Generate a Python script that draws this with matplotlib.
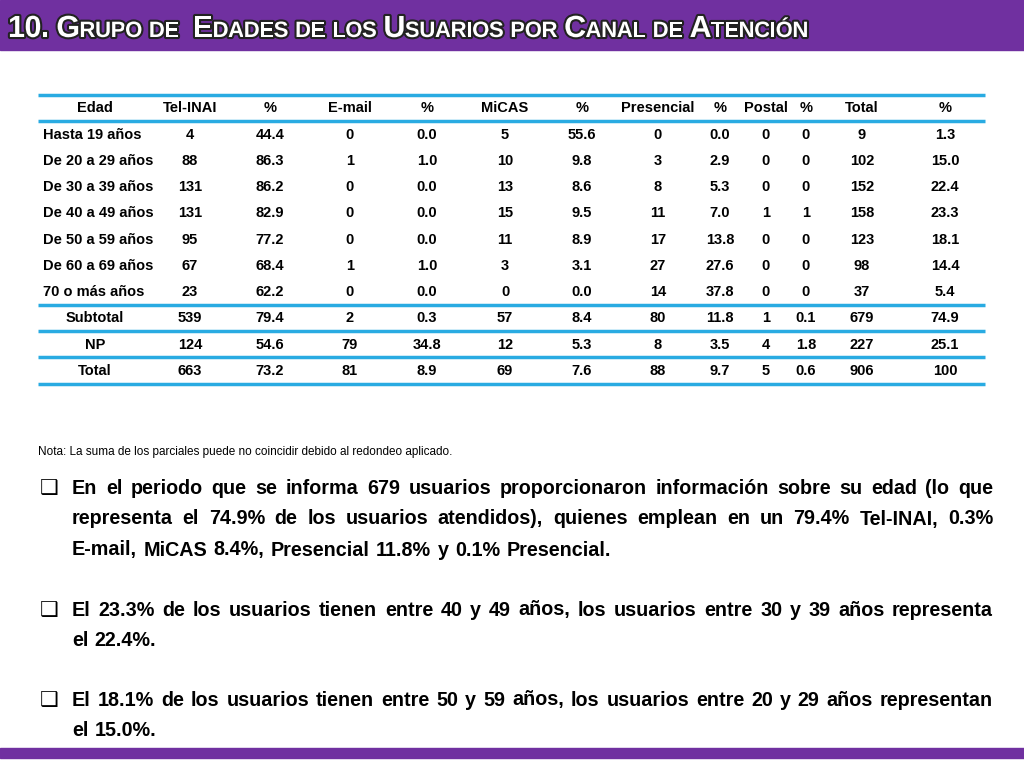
import matplotlib
matplotlib.use('Agg')
import matplotlib.pyplot as plt
import matplotlib.patches as mpatches
import matplotlib.patheffects as pe

plt.rcParams['font.family'] = 'sans-serif'
plt.rcParams['font.sans-serif'] = ['Liberation Sans', 'DejaVu Sans']

# Table data
headers = ["Edad", "Tel-INAI", "%", "E-mail", "%", "MiCAS", "%", "Presencial", "%", "Postal", "%", "Total", "%"]
ages = ["Hasta 19 años", "De 20 a 29 años", "De 30 a 39 años", "De 40 a 49 años",
        "De 50 a 59 años", "De 60 a 69 años", "70 o más años"]
tel = ["4", "88", "131", "131", "95", "67", "23"]
tel_pct = ["44.4", "86.3", "86.2", "82.9", "77.2", "68.4", "62.2"]
mail = ["0", "1", "0", "0", "0", "1", "0"]
mail_pct = ["0.0", "1.0", "0.0", "0.0", "0.0", "1.0", "0.0"]
micas = ["5", "10", "13", "15", "11", "3", "0"]
micas_pct = ["55.6", "9.8", "8.6", "9.5", "8.9", "3.1", "0.0"]
pres = ["0", "3", "8", "11", "17", "27", "14"]
pres_pct = ["0.0", "2.9", "5.3", "7.0", "13.8", "27.6", "37.8"]
postal = ["0", "0", "0", "1", "0", "0", "0"]
postal_pct = ["0", "0", "0", "1", "0", "0", "0"]
total = ["9", "102", "152", "158", "123", "98", "37"]
total_pct = ["1.3", "15.0", "22.4", "23.3", "18.1", "14.4", "5.4"]
summary_rows = [
    ["Subtotal", "539", "79.4", "2", "0.3", "57", "8.4", "80", "11.8", "1", "0.1", "679", "74.9"],
    ["NP", "124", "54.6", "79", "34.8", "12", "5.3", "8", "3.5", "4", "1.8", "227", "25.1"],
    ["Total", "663", "73.2", "81", "8.9", "69", "7.6", "88", "9.7", "5", "0.6", "906", "100"],
]

nota = "Nota: La suma de los parciales puede no coincidir debido al redondeo aplicado."
paragraphs = [
    "En el periodo que se informa 679 usuarios proporcionaron información sobre su edad "
    "(lo que representa el 74.9% de los usuarios atendidos),  quienes emplean en un 79.4% "
    "Tel-INAI, 0.3% E-mail, MiCAS 8.4%, Presencial 11.8% y  0.1% Presencial.",
    "El 23.3% de los usuarios tienen entre 40 y 49 años, los usuarios entre 30 y 39 años "
    "representa el 22.4%.",
    "El 18.1% de los usuarios tienen entre 50 y 59 años, los usuarios entre 20 y 29 años "
    "representan el 15.0%.",
]

PURPLE = '#7030A0'
BLUE = '#29ABE2'

fig = plt.figure(figsize=(10.24, 7.68), dpi=100, facecolor='white')
ax = fig.add_axes([0, 0, 1, 1])
ax.set_xlim(0, 1024)
ax.set_ylim(768, 0)
ax.axis('off')

# header and footer bars
ax.add_patch(mpatches.Rectangle((0, 0), 1024, 50, color=PURPLE, zorder=1))
ax.add_patch(mpatches.Rectangle((0, 748), 1024, 10, color=PURPLE, zorder=1))

fig.canvas.draw()
renderer = fig.canvas.get_renderer()

def px_width(t):
    return t.get_window_extent(renderer=renderer).width

# small-caps title
title = "10. Grupo de  Edades de los Usuarios por Canal de Atención"
x = 8
stroke = [pe.withStroke(linewidth=3, foreground='#222222')]
for ch in title:
    if ch == ' ':
        x += 7
        continue
    if ch.isupper() or ch.isdigit() or ch == '.':
        size, c = 22, ch
    else:
        size, c = 16, ch.upper()
    t = ax.text(x, 37, c, fontsize=size, fontweight='bold', color='white',
                va='baseline', ha='left', zorder=3, path_effects=stroke)
    x += px_width(t) * 0.97

# table
col_x = [95, 190, 270, 350, 427, 505, 582, 658, 720, 766, 806, 862, 945]
left, right = 38, 985
fs = 10.5
for cx, h in zip(col_x, headers):
    ax.text(cx, 108, h, ha='center', va='center', fontsize=fs, fontweight='bold')

row_y = [135, 161, 187, 213, 240, 266, 292]
cols = [tel, tel_pct, mail, mail_pct, micas, micas_pct, pres, pres_pct, postal, postal_pct, total, total_pct]
for i, yy in enumerate(row_y):
    ax.text(43, yy, ages[i], ha='left', va='center', fontsize=fs, fontweight='bold')
    for cx, col in zip(col_x[1:], cols):
        ax.text(cx, yy, col[i], ha='center', va='center', fontsize=fs, fontweight='bold')

for yy, row in zip([318, 345, 371], summary_rows):
    for cx, v in zip(col_x, row):
        ax.text(cx, yy, v, ha='center', va='center', fontsize=fs, fontweight='bold')

for ly in [95, 121, 304.5, 331, 357, 384]:
    ax.plot([left, right], [ly, ly], color=BLUE, lw=2.5, solid_capstyle='butt')

ax.text(38, 452, nota, ha='left', va='center', fontsize=8.5)

# justified paragraphs
pfs = 14.2
x0, x1 = 72, 993
line_h = 31
par_y = [488, 610, 700]

def words_width(ws):
    out = []
    for w in ws:
        t = ax.text(0, 0, w, fontsize=pfs, fontweight='bold')
        out.append(px_width(t))
        t.remove()
    return out

space = words_width(["a b"])[0] - 2 * words_width(["a"])[0]
for p, y0 in zip(paragraphs, par_y):
    ax.text(40, y0, '\u2751', ha='left', va='center', fontsize=15, family='DejaVu Sans')
    words = p.split()
    widths = words_width(words)
    lines, cur, curw = [], [], 0
    for w, wd in zip(words, widths):
        add = wd if not cur else wd + space
        if cur and curw + add > (x1 - x0):
            lines.append(cur)
            cur, curw = [(w, wd)], wd
        else:
            cur.append((w, wd))
            curw += add
    lines.append(cur)
    for li, ln in enumerate(lines):
        yy = y0 + li * line_h
        last = li == len(lines) - 1
        total_w = sum(wd for _, wd in ln)
        gap = space if (last or len(ln) < 2) else (x1 - x0 - total_w) / (len(ln) - 1)
        xx = x0
        for w, wd in ln:
            ax.text(xx, yy, w, ha='left', va='center', fontsize=pfs, fontweight='bold')
            xx += wd + gap

fig.savefig('out.png', dpi=100, facecolor='white')
